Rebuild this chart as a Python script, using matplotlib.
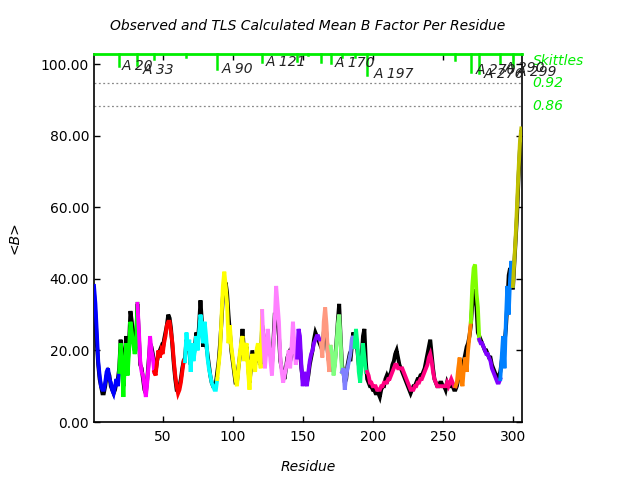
import matplotlib
matplotlib.use("Agg")
import matplotlib.pyplot as plt
import numpy as np

# ---------------- data ----------------
residues = list(range(1, 307))

tls_b = [
    38, 33, 25, 17, 13, 10, 9, 9, 11, 14,
    15, 12, 11, 9, 8, 10, 12, 10, 14, 22,
    15, 7, 17, 22, 13, 20, 28, 25, 22, 19,
    21, 33, 26, 17, 14, 13, 10, 7, 11, 16,
    24, 20, 18, 14, 13, 17, 20, 18, 20, 19,
    22, 24, 27, 28, 28, 25, 22, 17, 13, 10,
    8, 9, 11, 14, 17, 17, 25, 20, 23, 14,
    22, 17, 20, 24, 20, 25, 30, 27, 22, 28,
    24, 18, 15, 13, 11, 10, 9, 9, 12, 16,
    20, 29, 38, 42, 38, 33, 22, 27, 21, 18,
    15, 12, 10, 14, 19, 22, 24, 17, 21, 22,
    14, 9, 16, 19, 17, 14, 20, 22, 18, 15,
    31, 22, 15, 20, 26, 22, 17, 13, 20, 28,
    38, 33, 28, 18, 14, 11, 13, 15, 17, 20,
    15, 21, 28, 22, 16, 18, 26, 24, 16, 10,
    14, 12, 10, 14, 17, 19, 20, 22, 23, 24,
    24, 23, 22, 18, 28, 32, 27, 18, 14, 21,
    19, 13, 16, 21, 27, 30, 23, 14, 15, 9,
    13, 15, 17, 19, 23, 24, 21, 26, 22, 14,
    11, 17, 22, 18, 14, 14, 13, 11, 11, 10,
    10, 10, 9, 9, 9, 10, 10, 11, 11, 11,
    12, 12, 13, 14, 15, 16, 16, 15, 15, 15,
    15, 14, 13, 12, 11, 10, 9, 9, 9, 10,
    10, 11, 11, 12, 12, 13, 14, 15, 16, 18,
    19, 17, 14, 12, 11, 10, 10, 10, 10, 10,
    10, 10, 11, 10, 11, 12, 11, 10, 10, 11,
    15, 18, 12, 10, 15, 18, 14, 20, 24, 28,
    38, 43, 44, 36, 32, 23, 22, 22, 21, 20,
    19, 19, 18, 17, 15, 14, 13, 12, 11, 11,
    12, 18, 24, 15, 28, 38, 30, 40, 45, 38,
    45, 52, 61, 70, 78, 82,
]

observed_b = [
    36, 30, 22, 16, 12, 10, 8, 8, 10, 13,
    14, 13, 10, 9, 8, 9, 11, 12, 15, 23,
    18, 10, 19, 24, 16, 22, 31, 28, 24, 20,
    22, 33, 24, 16, 15, 12, 9, 8, 12, 17,
    22, 21, 19, 16, 14, 17, 19, 20, 21, 20,
    23, 25, 27, 30, 29, 26, 21, 16, 12, 9,
    9, 10, 12, 15, 17, 18, 23, 22, 21, 16,
    21, 18, 21, 25, 22, 27, 34, 28, 21, 24,
    22, 19, 16, 13, 11, 10, 10, 11, 14, 17,
    22, 28, 35, 38, 39, 36, 30, 25, 20, 17,
    14, 11, 11, 15, 18, 21, 26, 20, 19, 21,
    16, 11, 15, 20, 18, 16, 19, 21, 17, 16,
    27, 24, 18, 21, 23, 20, 19, 16, 22, 30,
    30, 28, 24, 17, 15, 13, 12, 15, 18, 19,
    17, 19, 24, 22, 18, 20, 22, 21, 15, 12,
    12, 11, 11, 13, 16, 18, 20, 23, 25, 24,
    23, 22, 21, 20, 25, 28, 24, 19, 16, 19,
    17, 14, 17, 22, 28, 33, 24, 16, 14, 11,
    12, 16, 18, 17, 21, 25, 22, 23, 20, 16,
    13, 18, 24, 26, 17, 12, 11, 10, 10, 9,
    9, 8, 8, 8, 7, 9, 10, 10, 12, 13,
    12, 13, 14, 16, 17, 19, 20, 18, 16, 15,
    14, 13, 12, 11, 10, 9, 8, 9, 10, 10,
    11, 12, 12, 13, 13, 14, 15, 17, 19, 21,
    23, 19, 15, 12, 11, 10, 10, 11, 11, 10,
    10, 9, 11, 10, 10, 11, 10, 9, 9, 10,
    12, 14, 13, 15, 17, 19, 21, 22, 24, 27,
    33, 37, 35, 32, 25, 24, 23, 22, 21, 20,
    20, 19, 18, 18, 16, 15, 14, 13, 12, 13,
    14, 17, 20, 22, 26, 33, 41, 43, 40, 37,
    44, 51, 58, 68, 76, 81,
]

# TLS groups: first residue and colour
group_starts = [1, 19, 32, 44, 66, 89, 121, 146, 163, 170, 178, 187, 196, 259, 270, 276, 291, 300]
group_colors = ['#0000ff', '#00ff00', '#ff00ff', '#ff0000', '#00ffff', '#ffff00', '#ff80ff',
                '#8000ff', '#ff9980', '#80ff80', '#8080ff', '#00ff80', '#ff0080', '#ff8000',
                '#80ff00', '#8000ff', '#0080ff', '#c0c000']

# Skittles bars (residue, lower end of bar)
skittle_res = [19, 32, 44, 67, 89, 121, 146, 154, 163, 170, 178, 187, 196, 259, 270, 276, 291, 300]
skittle_low = [99.4, 99.7, 101.4, 102.0, 98.6, 100.6, 100.8, 102.5, 100.6, 100.3, 102.0, 102.0,
               96.9, 101.1, 97.8, 97.5, 100.3, 99.4]

label_texts = ["A 20", "A 33", "A 90", "A 121", "A 170", "A 197", "A 270", "A 276", "A 290", "A 299"]
label_res = [20.5, 35.5, 92, 123.4, 172.6, 200.5, 273.4, 279, 294, 302.6]
label_val = [99.4, 98.3, 98.6, 100.6, 100.3, 97.2, 98.3, 97.2, 98.9, 97.8]

thresh_vals = [94.7, 88.3]
thresh_labels = ["0.92", "0.86"]

x_ticks = [50, 100, 150, 200, 250, 300]
y_ticks = [0, 20, 40, 60, 80, 100]

# ---------------- plot ----------------
fig = plt.figure(figsize=(6.4, 4.8), dpi=100)
ax = fig.add_axes([94/640, 58/480, (522-94)/640, (422-54)/480])
XMIN, XMAX = 1, 306.5
YMIN, YMAX = 0, 102.8
ax.set_xlim(XMIN, XMAX)
ax.set_ylim(YMIN, YMAX)

res = np.array(residues)
obs = np.array(observed_b)
tls = np.array(tls_b)

ax.plot(res, obs, color='black', lw=2.8, solid_joinstyle='miter', zorder=2)
ends = group_starts[1:] + [residues[-1]]
for s, e, c in zip(group_starts, ends, group_colors):
    m = (res >= s) & (res <= e)
    ax.plot(res[m], tls[m], color=c, lw=2.8, solid_joinstyle='miter', zorder=3)

for v in thresh_vals:
    ax.axhline(v, color='#888888', lw=0.9, ls=(0, (1.5, 2)), zorder=1)

for r, lo in zip(skittle_res, skittle_low):
    ax.plot([r, r], [lo, YMAX], color='#00ee00', lw=1.8, zorder=4, clip_on=False)
ax.plot([XMIN, XMAX], [YMAX, YMAX], color='#00ee00', lw=2, zorder=5, clip_on=False)

for t, r, v in zip(label_texts, label_res, label_val):
    ax.text(r, v, t, fontsize=10, style='italic', color='#222222', va='center', ha='left',
            zorder=6, clip_on=False)

trans = ax.get_yaxis_transform()
ax.text(1.025, 100.8, "Skittles", transform=trans, color='#00ee00', style='italic',
        fontsize=10, va='center', ha='left')
for v, t in zip(thresh_vals, thresh_labels):
    ax.text(1.025, v, t, transform=trans, color='#00ee00', style='italic',
            fontsize=10, va='center', ha='left')

ax.set_xticks(x_ticks)
ax.set_yticks(y_ticks)
ax.set_yticklabels([f"{v:.2f}" for v in y_ticks])
ax.tick_params(direction='in', length=4, width=1, top=True, right=True, labelsize=10)
ax.tick_params(axis='x', pad=6)
for sp in ax.spines.values():
    sp.set_linewidth(1.2)
ax.spines['top'].set_visible(False)

ax.set_title("Observed and TLS Calculated Mean B Factor Per Residue", style='italic',
             fontsize=10, pad=17)
ax.set_xlabel("Residue", style='italic', fontsize=10, labelpad=11)
ax.set_ylabel("<B>", style='italic', fontsize=10, labelpad=14)

fig.savefig("out.png", dpi=100)
